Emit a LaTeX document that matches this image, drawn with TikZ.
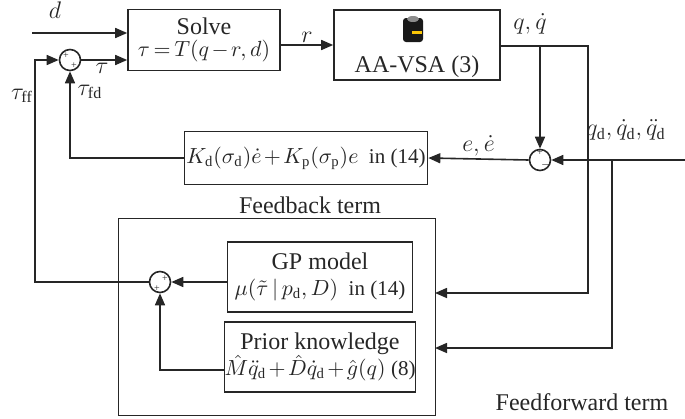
\documentclass[tikz,border=0pt]{standalone}
\usepackage{amsmath}
\usepackage{fontspec}
\setmainfont{Liberation Serif}
\usetikzlibrary{arrows.meta}
\tikzset{
  blk/.style={draw,thick,align=center,inner sep=1pt},
  sumj/.style={draw,thick,circle,minimum size=10.5pt,inner sep=0pt},
  sgn/.style={font=\tiny,inner sep=0pt},
  lbl/.style={inner sep=1pt}
}
\newcommand{\eqsz}{\fontsize{10.5}{12}\selectfont}
\begin{document}
\begin{tikzpicture}[x=0.5pt,y=-0.5pt,>={Triangle[length=6pt,width=5pt]},thick,color=black!85,
    every node/.append style={font=\fontsize{12}{13}\selectfont}]
  \useasboundingbox (0,0) rectangle (685,418);
  \medmuskip=2mu \thickmuskip=3mu
  % boxes
  \node[blk,minimum width=76pt,minimum height=30.5pt] (solve) at (204,40) {Solve\\[-2pt]{\eqsz$\tau = T(q-r,d)$}};
  \node[blk,minimum width=83pt,minimum height=35pt] (vsa) at (417,45) {};
  \node[lbl] (vsatext) at (417,67) {AA-VSA (3)};
  \node[blk,minimum width=106pt,minimum height=26.5pt] (fb) at (306,158) {\eqsz$K_{\mathrm{d}}(\sigma_{\mathrm{d}})\dot e + K_{\mathrm{p}}(\sigma_{\mathrm{p}})e$\ \ in (14)};
  \draw[thin] (118,218) rectangle (435,415);
  \node[blk,minimum width=92.5pt,minimum height=35pt] (gp) at (320,277) {GP model\\{\eqsz$\mu(\tilde\tau \mid p_{\mathrm{d}},D)$\ \ in (14)}};
  \node[blk,minimum width=92.5pt,minimum height=35pt,inner xsep=0pt] (prior) at (320,357) {Prior knowledge\\{\eqsz$\hat M\ddot q_{\mathrm{d}} + \hat D\dot q_{\mathrm{d}} + \hat g(q)$\ (8)}};
  % actuator icon
  \fill[black!90,rounded corners=1.5pt] (403,18) rectangle (423,42);
  \fill[black!45] (413,19) ellipse (6 and 3);
  \fill[yellow!60!orange] (412,31) rectangle (422,34);
  % summing junctions
  \node[sumj] (s1) at (70,60) {};
  \node[sgn] at (66,56) {+};
  \node[sgn] at (74,66) {+};
  \node[sumj] (s2) at (540,160) {};
  \node[sgn] at (540,153) {+};
  \node[sgn] at (546,165) {$-$};
  \node[sumj] (s3) at (160,282) {};
  \node[sgn] at (165,279) {+};
  \node[sgn] at (157,289) {+};
  \coordinate (din) at (32,33);
  \coordinate (ffx) at (35,282);
  \coordinate (qdin) at (685,160);
  % connectors
  \draw[->] (din) -- (solve.west |- din);
  \draw[->] (s1) -- (solve.west |- s1) node[lbl,pos=0.45,below] {$\tau$};
  \draw[->] (solve.east |- 0,45) -- (vsa.west |- 0,45) node[lbl,midway,above] {$r$};
  \draw[->] (vsa.east |- 0,46) -| (s2.north);
  \draw[->] (vsa.east |- 0,46) -| (588,293) -- (435,293);
  \draw[->] (qdin) -- (s2.east);
  \draw[->] (612,160) |- (435,348);
  \draw[->] (s2.west) -- (fb.east) node[lbl,midway,above] {$e,\dot e$};
  \draw[->] (fb.west) -| (s1.south);
  \draw[->] (gp.west |- s3) -- (s3.east);
  \draw[->] (prior.west |- 0,370) -| (s3.south);
  \draw[->] (s3.west) -- (ffx) -- (ffx |- s1) -- (s1.west);
  % labels
  \node[lbl] at (55,10) {$d$};
  \node[lbl] at (22,96) {$\tau_{\mathrm{ff}}$};
  \node[lbl] at (90,92) {$\tau_{\mathrm{fd}}$};
  \node[lbl] at (530,24) {$q,\dot q$};
  \node[lbl] at (626,130) {$q_{\mathrm{d}},\dot q_{\mathrm{d}},\ddot q_{\mathrm{d}}$};
  \node[lbl] at (310,205) {Feedback term};
  \node[lbl] at (582,402) {Feedforward term};
\end{tikzpicture}
\end{document}
